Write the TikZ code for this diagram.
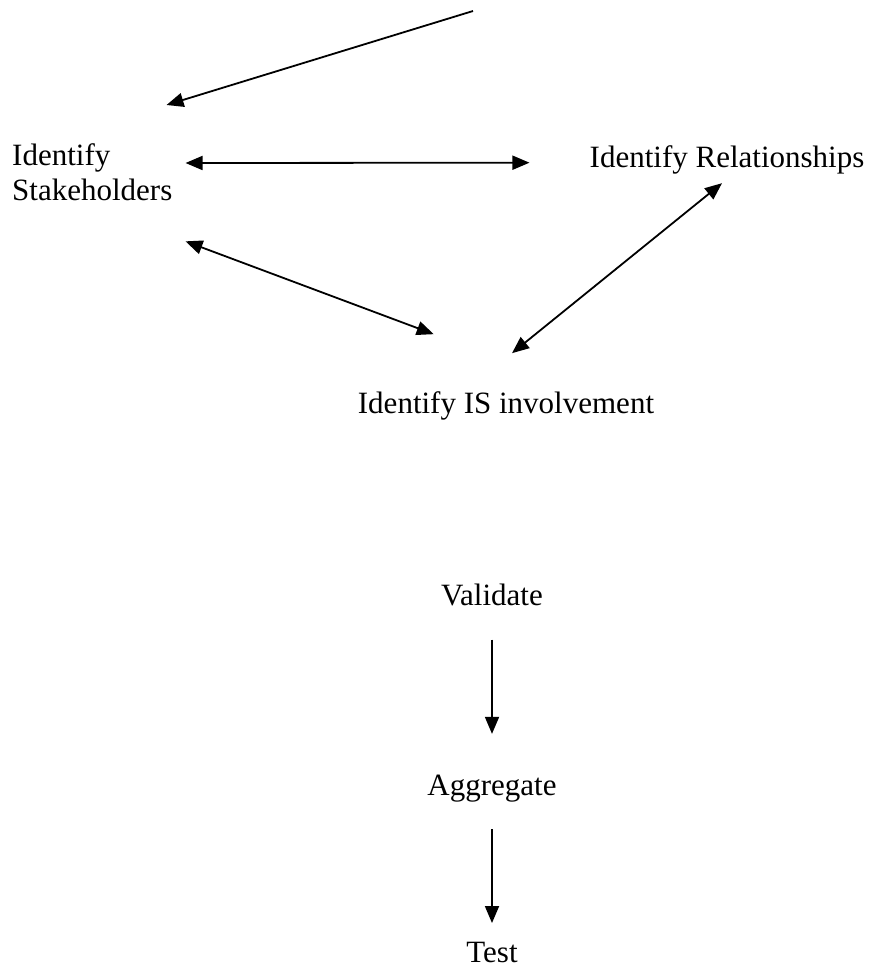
\documentclass[tikz,border=0pt]{standalone}
\usepackage{fontspec}
\setmainfont{Liberation Serif}
\usepackage{tikz}
\usetikzlibrary{arrows.meta, positioning, calc}
\tikzset{
	lbl/.style    ={inner sep=0pt, font=\fontsize{31}{35}\selectfont, align=left},
	flowarrow/.style={-{Triangle[length=17pt, width=14pt]}, line width=1.8pt},
	twoway/.style ={{Triangle[length=17pt, width=14pt]}-{Triangle[length=17pt, width=14pt]}, line width=1.8pt},
}
\begin{document}
\begin{tikzpicture}[x=1pt, y=-1pt]
	\useasboundingbox (0,0) rectangle (876,970);
	% identification cycle
	\node[lbl, anchor=north west] (stake) at (12,143.8) {Identify\\Stakeholders};
	\node[lbl, anchor=base] (rel) at (727,167) {Identify Relationships};
	\node[lbl, anchor=base] (isinv) at (506,413) {Identify IS involvement};
	\coordinate (entry) at (473,11);
	\draw[flowarrow] (entry) -- ($(stake.north east)+(-6,-38.8)$);
	\draw[twoway] ($(stake.north east)+(13,19.2)$) -- ($(rel.west)+(-60,3.25)$);
	\draw[twoway] ($(stake.south east)+(13,40)$) -- ($(isinv.north west)+(76,-56.8)$);
	\draw[twoway] ($(rel.south)+(-5,9.3)$) -- ($(isinv.north)+(6,-37.8)$);
	% later steps
	\node[lbl, anchor=base] (valid) at (492,605) {Validate};
	\node[lbl, anchor=base] (aggr) at (492,795) {Aggregate};
	\node[lbl, anchor=base] (test) at (492,962) {Test};
	\draw[flowarrow] ($(valid.south)+(0,34)$) -- ($(aggr.north)+(0,-40.5)$);
	\draw[flowarrow] ($(aggr.south)+(0,27.3)$) -- ($(test.north)+(0,-18.5)$);
\end{tikzpicture}
\end{document}
